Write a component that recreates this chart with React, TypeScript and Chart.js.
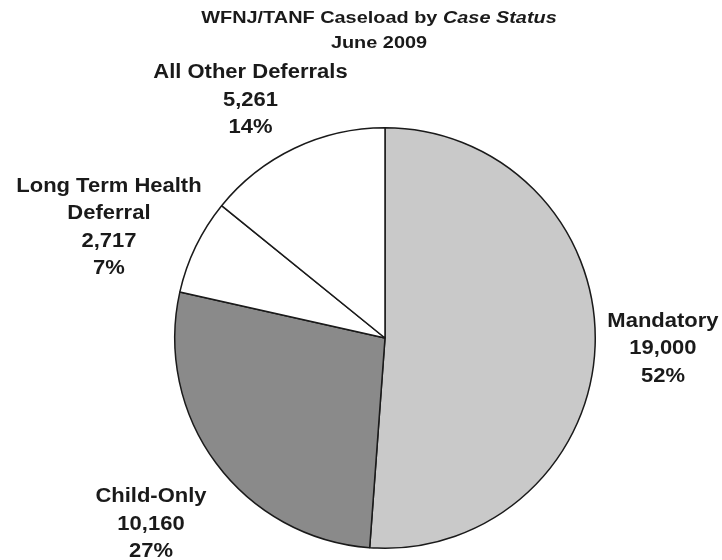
import React, { useEffect, useRef } from "react";
import { Chart, registerables } from "chart.js";

Chart.register(...registerables);

const categories = ["Mandatory", "Child-Only", "Long Term Health Deferral", "All Other Deferrals"];
const labelLines = [["Mandatory"], ["Child-Only"], ["Long Term Health", "Deferral"], ["All Other Deferrals"]];
const caseloads = [19000, 10160, 2717, 5261];
const percentLabels = ["52%", "27%", "7%", "14%"];
const sliceColors = ["#c9c9c9", "#8a8a8a", "#ffffff", "#ffffff"];
const titleMain = "WFNJ/TANF Caseload by ";
const titleItalic = "Case Status";
const subtitle = "June 2009";

// label block centres, relative to pie centre, in units of the pie radius
const labelAnchors = [
  [1.322, 0.052],
  [-1.113, 0.886],
  [-1.313, -0.526],
  [-0.64, -1.13],
];

const fmt = (v: number) => v.toLocaleString("en-US");

const textPlugin = {
  id: "textPlugin",
  afterDraw(chart: any) {
    const ctx = chart.ctx as CanvasRenderingContext2D;
    const arc = chart.getDatasetMeta(0).data[0];
    const cx = arc.x;
    const cy = arc.y;
    const r = arc.outerRadius;
    const fam = '"Liberation Sans", Arial, sans-serif';
    ctx.save();
    ctx.fillStyle = "#1a1a1a";
    ctx.textBaseline = "middle";
    // title
    const tStretch = 1.17;
    ctx.font = `bold 17px ${fam}`;
    const w1 = ctx.measureText(titleMain).width;
    ctx.font = `italic bold 17px ${fam}`;
    const w2 = ctx.measureText(titleItalic).width;
    const total = (w1 + w2) * tStretch;
    const tx = 379 - total / 2;
    ctx.save();
    ctx.translate(tx, 18);
    ctx.scale(tStretch, 1);
    ctx.textAlign = "left";
    ctx.font = `bold 17px ${fam}`;
    ctx.fillText(titleMain, 0, 0);
    ctx.font = `italic bold 17px ${fam}`;
    ctx.fillText(titleItalic, w1, 0);
    ctx.restore();
    ctx.save();
    ctx.translate(379, 43);
    ctx.scale(tStretch, 1);
    ctx.textAlign = "center";
    ctx.font = `bold 17px ${fam}`;
    ctx.fillText(subtitle, 0, 0);
    ctx.restore();

    // slice labels
    const lStretch = 1.1;
    const lh = 27.5;
    ctx.font = `bold 20px ${fam}`;
    ctx.textAlign = "center";
    categories.forEach((_, i) => {
      const lines = [...labelLines[i], fmt(caseloads[i]), percentLabels[i]];
      const bx = cx + labelAnchors[i][0] * r;
      const by = cy + labelAnchors[i][1] * r;
      const top = by - ((lines.length - 1) * lh) / 2;
      lines.forEach((ln, j) => {
        ctx.save();
        ctx.translate(bx, top + j * lh);
        ctx.scale(lStretch, 1);
        ctx.fillText(ln, 0, 0);
        ctx.restore();
      });
    });
    ctx.restore();
  },
};

export default function App() {
  const ref = useRef<HTMLCanvasElement | null>(null);
  useEffect(() => {
    if (!ref.current) return;
    const chart = new Chart(ref.current, {
      type: "pie",
      data: {
        labels: categories,
        datasets: [
          {
            data: caseloads,
            backgroundColor: sliceColors,
            borderColor: "#1a1a1a",
            borderWidth: 1.5,
          },
        ],
      },
      options: {
        responsive: false,
        animation: false,
        layout: { padding: { top: 127, left: 174, right: 126, bottom: 11 } },
        plugins: {
          legend: { display: false },
          tooltip: { enabled: false },
          title: { display: false },
        },
      },
      plugins: [textPlugin],
    });
    return () => chart.destroy();
  }, []);
  return (
    <div style={{ position: "fixed", left: 0, top: 0, width: 722, height: 560, background: "#fff" }}>
      <canvas ref={ref} width={722} height={560} style={{ width: 722, height: 560 }} />
    </div>
  );
}
